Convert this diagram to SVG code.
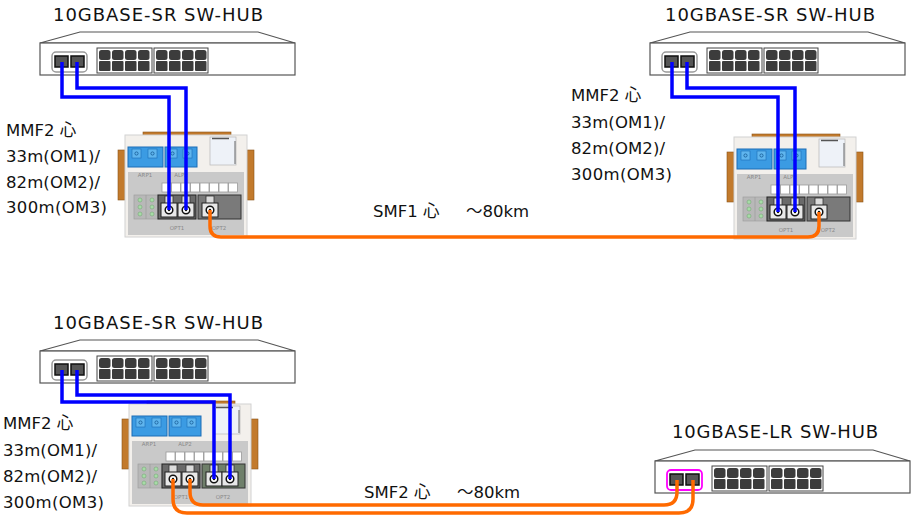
<svg xmlns="http://www.w3.org/2000/svg" xmlns:xlink="http://www.w3.org/1999/xlink" width="912" height="516" viewBox="0 0 912 516">
<style>
.lbl{font-family:"DejaVu Sans","Noto Sans CJK JP",sans-serif;font-size:16.5px;fill:#111}
.hl{font-size:18px}
.tiny{font-family:"DejaVu Sans",sans-serif;font-size:5.5px;fill:#8a8a8a;text-anchor:middle}
.hubline{fill:#fff;stroke:#555;stroke-width:1.2}
.rjblk{fill:#fff;stroke:#444;stroke-width:1}
.rj{fill:#3c3c3c}
.sfp{fill:#555;stroke:#111;stroke-width:1.5}
.blue{fill:none;stroke:#0000ff;stroke-width:3.5;stroke-linejoin:miter}
.orange{fill:none;stroke:#ff6a00;stroke-width:3.5}
.brown{fill:#c27a2c;stroke:#8a5418;stroke-width:0.6}
.term{fill:#3b9be3;stroke:#1c6db5;stroke-width:1}
.sq{fill:#fff;stroke:#9a9a9a;stroke-width:0.8}
.led{fill:#a6dca6;stroke:#7aa87a;stroke-width:0.6}
</style>
<defs>
  <g id="hub">
    <polygon class="hubline" points="80,32 258,32 295,43 40,43"/>
    <rect class="hubline" x="40" y="43" width="255" height="32"/>
    <rect class="sfp" x="55" y="56" width="13" height="11"/>
    <rect class="sfp" x="71" y="56" width="13" height="11"/>
    <rect class="rjblk" x="97" y="48" width="55" height="25"/>
    <rect class="rjblk" x="154" y="48" width="54" height="25"/>
    <g class="rj">
      <rect x="99" y="50" width="11.5" height="10" rx="2.5"/><rect x="112" y="50" width="11.5" height="10" rx="2.5"/><rect x="125" y="50" width="11.5" height="10" rx="2.5"/><rect x="138" y="50" width="11.5" height="10" rx="2.5"/>
      <rect x="99" y="61" width="11.5" height="10" rx="1"/><rect x="112" y="61" width="11.5" height="10" rx="1"/><rect x="125" y="61" width="11.5" height="10" rx="1"/><rect x="138" y="61" width="11.5" height="10" rx="1"/>
      <rect x="156" y="50" width="11.5" height="10" rx="2.5"/><rect x="169" y="50" width="11.5" height="10" rx="2.5"/><rect x="182" y="50" width="11.5" height="10" rx="2.5"/><rect x="195" y="50" width="11.5" height="10" rx="2.5"/>
      <rect x="156" y="61" width="11.5" height="10" rx="1"/><rect x="169" y="61" width="11.5" height="10" rx="1"/><rect x="182" y="61" width="11.5" height="10" rx="1"/><rect x="195" y="61" width="11.5" height="10" rx="1"/>
    </g>
  </g>
  <g id="sc">
    <rect x="-4" y="-14" width="8" height="8" fill="#dcdcdc" stroke="#333" stroke-width="0.8"/>
    <rect x="-8" y="-7" width="16" height="14" fill="#e8e8e8" stroke="#222" stroke-width="1"/>
    <circle r="3.8" fill="#fff" stroke="#111" stroke-width="1.5"/>
    <circle r="1.2" fill="#111"/>
  </g>
  <g id="conv">
    <rect class="brown" x="143" y="132" width="88" height="4"/>
    <rect class="brown" x="118" y="150" width="7" height="50"/>
    <rect class="brown" x="247" y="150" width="7" height="50"/>
    <rect x="125" y="135" width="122" height="102" fill="#f3f0ec" stroke="#d2d2d2" stroke-width="1"/>
    <rect x="128" y="172" width="116" height="63" fill="#c9c9c9"/>
    <rect class="term" x="128" y="147" width="35" height="20"/>
    <rect class="term" x="165" y="147" width="32" height="20"/>
    <g fill="#5fb5ee" stroke="#1c6db5" stroke-width="0.6">
      <rect x="132" y="149" width="9" height="9"/><rect x="148" y="149" width="9" height="9"/>
      <rect x="168" y="149" width="9" height="9"/><rect x="183" y="149" width="9" height="9"/>
    </g>
    <g fill="none" stroke="#0d4f8a" stroke-width="0.7">
      <circle cx="136.5" cy="153.5" r="1.6"/><circle cx="152.5" cy="153.5" r="1.6"/>
      <circle cx="172.5" cy="153.5" r="1.6"/><circle cx="187.5" cy="153.5" r="1.6"/>
    </g>
    <text class="tiny" x="145" y="177">ARP1</text>
    <text class="tiny" x="181" y="177">ALP2</text>
    <rect x="210" y="137" width="26" height="28" fill="#eef2f8" stroke="#bdbdbd" stroke-width="0.8"/>
    <line x1="212" y1="138.5" x2="229" y2="138.5" stroke="#555" stroke-width="1.5"/>
    <line x1="235" y1="141" x2="235" y2="164" stroke="#666" stroke-width="1"/>
    <g class="sq">
      <rect x="162" y="183" width="9" height="9"/><rect x="171.5" y="183" width="9" height="9"/><rect x="181" y="183" width="9" height="9"/><rect x="190.5" y="183" width="9" height="9"/>
      <rect x="200" y="183" width="9" height="9"/><rect x="209.5" y="183" width="9" height="9"/><rect x="219" y="183" width="9" height="9"/><rect x="228.5" y="183" width="9" height="9"/>
    </g>
    <rect x="134" y="195" width="24" height="24" fill="#b8b8b8" stroke="#9a9a9a" stroke-width="0.6"/>
    <line x1="146" y1="195" x2="146" y2="219" stroke="#999" stroke-width="0.6"/>
    <g class="led">
      <circle cx="140" cy="200" r="2"/><circle cx="152" cy="200" r="2"/>
      <circle cx="140" cy="207" r="2"/><circle cx="152" cy="207" r="2"/>
      <circle cx="140" cy="214" r="2"/><circle cx="152" cy="214" r="2"/>
    </g>
    <rect x="158" y="195" width="38" height="24" fill="#6a6a6a" stroke="#222" stroke-width="1"/>
    <text class="tiny" x="177" y="230">OPT1</text>
    <text class="tiny" x="219" y="230">OPT2</text>
  </g>
</defs>

<g id="hub-sr-1">
  <use xlink:href="#hub"/>
  <rect x="52" y="52" width="35" height="20" rx="4" fill="none" stroke="#9a9a9a" stroke-width="1.5"/>
  <text class="lbl hl" x="53" y="21" textLength="210" lengthAdjust="spacing">10GBASE-SR SW-HUB</text>
</g>
<g id="hub-sr-2">
  <use xlink:href="#hub" transform="translate(610,0)"/>
  <rect x="662" y="52" width="35" height="20" rx="4" fill="none" stroke="#9a9a9a" stroke-width="1.5"/>
  <text class="lbl hl" x="665" y="21" textLength="210" lengthAdjust="spacing">10GBASE-SR SW-HUB</text>
</g>
<g id="hub-sr-3">
  <use xlink:href="#hub" transform="translate(0,308)"/>
  <rect x="52" y="360" width="35" height="20" rx="4" fill="none" stroke="#9a9a9a" stroke-width="1.5"/>
  <text class="lbl hl" x="53" y="329" textLength="210" lengthAdjust="spacing">10GBASE-SR SW-HUB</text>
</g>
<g id="hub-lr">
  <use xlink:href="#hub" transform="translate(615,418)"/>
  <rect x="667" y="470" width="35" height="20" rx="4" fill="none" stroke="#ff00ff" stroke-width="1.8"/>
  <text class="lbl hl" x="672" y="438" textLength="206" lengthAdjust="spacing">10GBASE-LR SW-HUB</text>
</g>

<g id="conv-1">
  <use xlink:href="#conv"/>
  <use xlink:href="#sc" x="169" y="210"/>
  <use xlink:href="#sc" x="186" y="210"/>
  <rect x="198" y="195" width="43" height="24" fill="#7a7a7a" stroke="#333" stroke-width="1"/>
  <use xlink:href="#sc" x="210" y="210"/>
</g>
<g id="conv-2" transform="translate(609,2)">
  <use xlink:href="#conv"/>
  <use xlink:href="#sc" x="169" y="210"/>
  <use xlink:href="#sc" x="186" y="210"/>
  <rect x="198" y="195" width="43" height="24" fill="#7a7a7a" stroke="#333" stroke-width="1"/>
  <use xlink:href="#sc" x="210" y="210"/>
</g>
<g id="conv-3" transform="translate(4,269)">
  <use xlink:href="#conv"/>
  <use xlink:href="#sc" x="169" y="210"/>
  <use xlink:href="#sc" x="186" y="210"/>
  <rect x="198" y="195" width="43" height="24" fill="#6f7f6a" stroke="#333" stroke-width="1"/>
  <use xlink:href="#sc" x="210" y="210"/>
  <use xlink:href="#sc" x="226" y="210"/>
</g>

<g id="connectors">
  <path class="blue" d="M62,62 V97 H169 V210"/>
  <path class="blue" d="M77,62 V88 H186 V210"/>
  <path class="blue" d="M672,62 V97 H778 V212"/>
  <path class="blue" d="M687,62 V88 H795 V212"/>
  <path class="blue" d="M62,370 V402 H214 V479"/>
  <path class="blue" d="M77,370 V395 H230 V479"/>
  <path class="orange" d="M210,210 V226 Q210,237 221,237 H808 Q819,237 819,226 V212"/>
  <path class="orange" d="M173,479 V499 Q173,513 187,513 H679 Q693,513 693,499 V480"/>
  <path class="orange" d="M190,479 V492 Q190,505 203,505 H664 Q677,505 677,492 V480"/>
</g>

<g id="labels">
  <text class="lbl" x="6" y="136">MMF2 心</text>
  <text class="lbl" x="6" y="162" textLength="94" lengthAdjust="spacing">33m(OM1)/</text>
  <text class="lbl" x="6" y="188" textLength="94" lengthAdjust="spacing">82m(OM2)/</text>
  <text class="lbl" x="6" y="213" textLength="101" lengthAdjust="spacing">300m(OM3)</text>

  <text class="lbl" x="571" y="101">MMF2 心</text>
  <text class="lbl" x="571" y="128" textLength="94" lengthAdjust="spacing">33m(OM1)/</text>
  <text class="lbl" x="571" y="154" textLength="94" lengthAdjust="spacing">82m(OM2)/</text>
  <text class="lbl" x="571" y="180" textLength="101" lengthAdjust="spacing">300m(OM3)</text>

  <text class="lbl" x="3" y="429">MMF2 心</text>
  <text class="lbl" x="3" y="456" textLength="94" lengthAdjust="spacing">33m(OM1)/</text>
  <text class="lbl" x="3" y="482" textLength="94" lengthAdjust="spacing">82m(OM2)/</text>
  <text class="lbl" x="3" y="508" textLength="101" lengthAdjust="spacing">300m(OM3)</text>

  <text class="lbl" x="373" y="217"><tspan>SMF1 心</tspan> <tspan x="466">～80km</tspan></text>
  <text class="lbl" x="364" y="498"><tspan>SMF2 心</tspan> <tspan x="457">～80km</tspan></text>
</g>
</svg>
